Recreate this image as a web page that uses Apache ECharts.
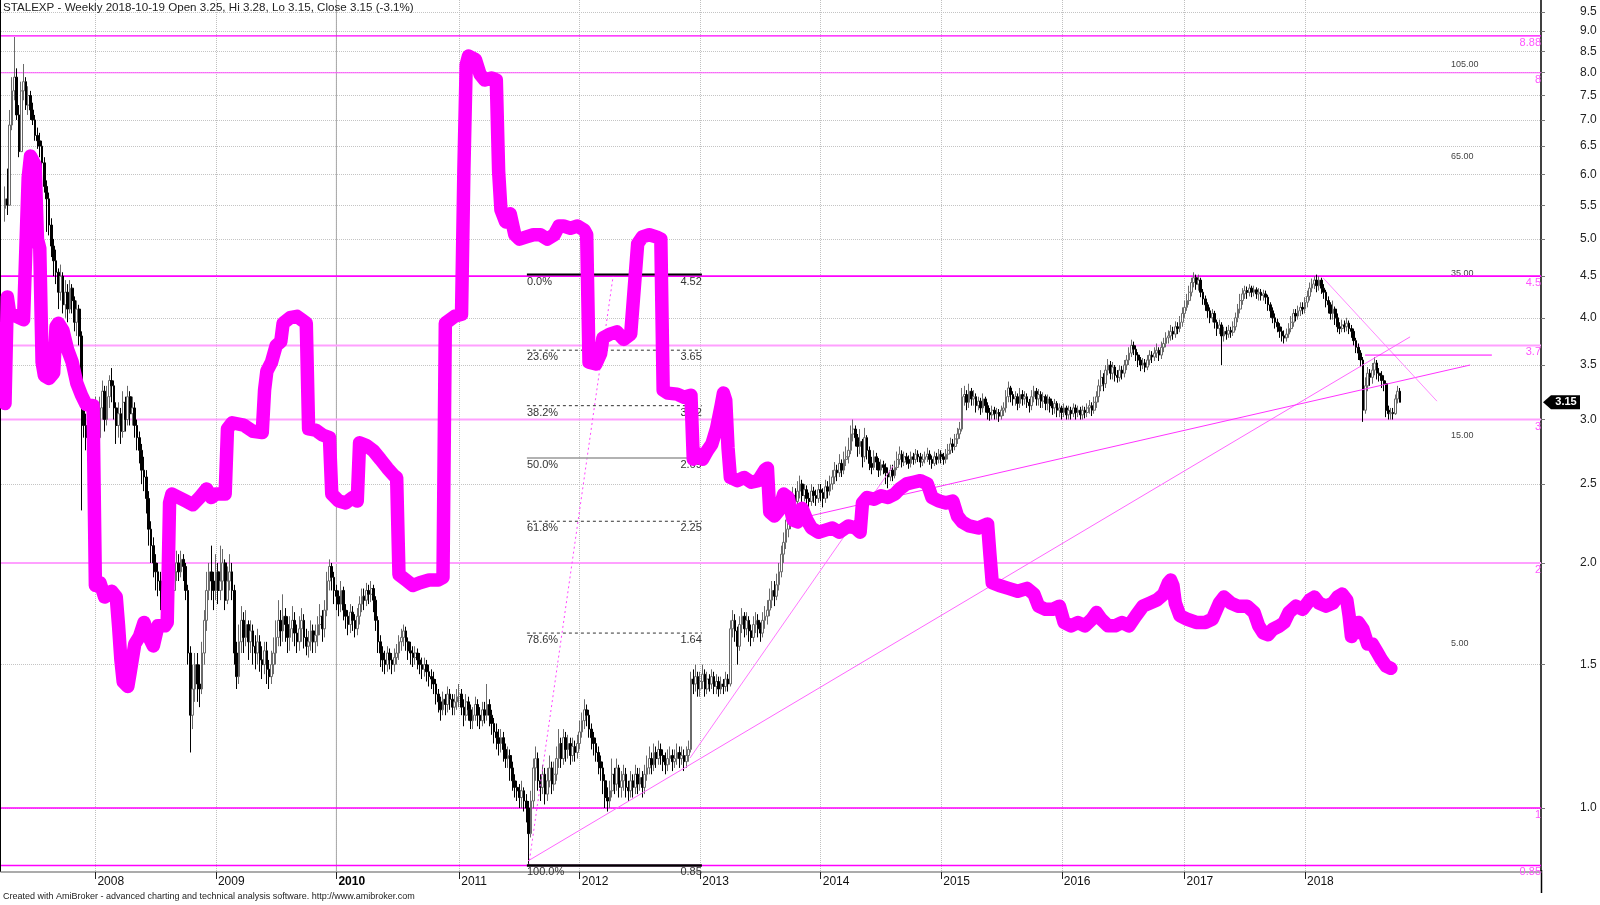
<!DOCTYPE html>
<html><head><meta charset="utf-8">
<script src="https://cdn.jsdelivr.net/npm/echarts@6/dist/echarts.min.js"></script>
<style>html,body{margin:0;padding:0;background:#fff}#c{width:1600px;height:905px}</style>
</head><body><div id="c"></div>
<script>
// Weekly bars from 2007-04-06 (week 0) to 2018-10-19 (week 602): [open, close, low, high]
const ohlc2007 = [[5.45,5.6,5.25,5.8],[5.6,5.5,5.35,6.1],[5.5,6.9,5.5,7.2],[6.9,7.6,6.8,7.9],[7.6,7.9,7.4,8.85],[7.9,7.1,7.0,8.1],[7.1,6.4,6.3,7.3],[6.4,7.6,6.4,7.8],[7.6,7.8,7.4,8.2],[7.8,7.3,7.2,7.9],[7.3,7.5,7.1,7.7],[7.5,7.2,7.0,7.6],[7.2,7.0,6.9,7.35],[7.0,6.7,6.6,7.1],[6.7,6.6,6.45,6.85],[6.6,6.5,6.3,6.75],[6.5,6.2,6.05,6.6],[6.2,5.8,5.7,6.3],[5.8,5.6,5.1,5.9],[5.6,5.2,5.05,5.7],[5.2,4.9,4.75,5.3],[4.9,4.7,4.5,5.0],[4.7,4.55,4.4,4.85],[4.55,4.3,4.1,4.6],[4.3,4.5,4.2,4.65],[4.5,4.15,4.05,4.55],[4.15,4.3,4.0,4.45],[4.3,4.1,3.95,4.4],[4.1,4.35,4.05,4.45],[4.35,4.2,4.05,4.4],[4.2,3.95,3.85,4.25],[3.95,4.1,3.8,4.2],[4.1,3.8,3.7,4.15],[3.8,3.2,2.32,3.85],[3.2,2.95,2.85,3.3],[2.95,2.85,2.75,3.05],[2.85,2.9,2.78,3.0],[2.9,2.78,2.7,2.95],[2.78,3.0,2.75,3.1]];
const ohlc2008 = [[3.0,3.05,2.8,3.2],[3.05,2.85,2.3,3.1],[2.85,3.1,2.45,3.2],[3.1,3.25,3.0,3.35],[3.25,3.0,2.9,3.3],[3.0,3.2,2.95,3.3],[3.2,3.35,3.1,3.4],[3.35,3.3,3.15,3.47],[3.3,3.1,3.0,3.35],[3.1,2.95,2.8,3.15],[2.95,3.05,2.85,3.15],[3.05,2.9,2.8,3.1],[2.9,3.15,2.85,3.25],[3.15,3.0,2.9,3.2],[3.0,3.2,2.95,3.3],[3.2,3.05,2.95,3.25],[3.05,3.1,2.95,3.2],[3.1,2.95,2.85,3.15],[2.95,2.85,2.75,3.0],[2.85,2.75,2.65,2.9],[2.75,2.6,2.5,2.8],[2.6,2.55,2.45,2.7],[2.55,2.4,2.3,2.6],[2.4,2.2,2.1,2.45],[2.2,2.1,2.0,2.25],[2.1,2.0,1.92,2.15],[2.0,1.95,1.85,2.05],[1.95,1.9,1.82,2.0],[1.9,1.85,1.75,1.95],[1.85,1.8,1.72,1.9],[1.8,1.75,1.7,1.85],[1.75,1.8,1.7,1.88],[1.8,1.9,1.75,1.95],[1.9,1.85,1.78,1.95],[1.85,1.95,1.8,2.02],[1.95,2.0,1.9,2.07],[2.0,1.95,1.9,2.05],[1.95,2.02,1.92,2.07],[2.02,1.98,1.9,2.05],[1.98,1.85,1.8,2.0],[1.85,1.55,1.5,1.88],[1.55,1.3,1.17,1.58],[1.3,1.4,1.25,1.5],[1.4,1.5,1.35,1.55],[1.5,1.42,1.35,1.55],[1.42,1.4,1.33,1.5],[1.4,1.55,1.38,1.6],[1.55,1.7,1.5,1.75],[1.7,1.85,1.65,1.95],[1.85,1.95,1.8,2.0],[1.95,1.9,1.8,2.1],[1.9,1.85,1.75,1.95]];
const ohlc2009 = [[1.85,1.95,1.8,2.05],[1.95,1.85,1.78,2.0],[1.85,1.9,1.8,2.1],[1.9,2.0,1.85,2.08],[2.0,1.8,1.75,2.02],[1.8,1.9,1.78,1.98],[1.9,1.95,1.85,2.05],[1.95,1.85,1.8,2.0],[1.85,1.55,1.5,1.88],[1.55,1.45,1.4,1.6],[1.45,1.6,1.42,1.68],[1.6,1.7,1.55,1.77],[1.7,1.62,1.55,1.74],[1.62,1.68,1.58,1.75],[1.68,1.6,1.52,1.7],[1.6,1.65,1.55,1.7],[1.65,1.58,1.5,1.68],[1.58,1.55,1.48,1.63],[1.55,1.6,1.5,1.66],[1.6,1.52,1.47,1.63],[1.52,1.5,1.44,1.58],[1.5,1.56,1.46,1.6],[1.56,1.48,1.42,1.6],[1.48,1.45,1.4,1.52],[1.45,1.5,1.42,1.56],[1.5,1.55,1.46,1.62],[1.55,1.62,1.5,1.7],[1.62,1.7,1.58,1.8],[1.7,1.65,1.58,1.75],[1.65,1.72,1.6,1.83],[1.72,1.68,1.6,1.76],[1.68,1.62,1.55,1.72],[1.62,1.66,1.56,1.72],[1.66,1.7,1.6,1.77],[1.7,1.64,1.58,1.74],[1.64,1.6,1.55,1.68],[1.6,1.66,1.56,1.72],[1.66,1.7,1.6,1.76],[1.7,1.62,1.57,1.73],[1.62,1.58,1.54,1.66],[1.58,1.6,1.53,1.65],[1.6,1.65,1.56,1.7],[1.65,1.6,1.55,1.68],[1.6,1.63,1.55,1.68],[1.63,1.68,1.58,1.72],[1.68,1.72,1.63,1.78],[1.72,1.66,1.6,1.75],[1.66,1.75,1.62,1.8],[1.75,1.9,1.72,1.95],[1.9,1.98,1.85,2.02],[1.98,1.92,1.85,2.0],[1.92,1.85,1.78,1.95]];
const ohlc2010 = [[1.85,1.82,1.75,1.88],[1.82,1.78,1.72,1.85],[1.78,1.85,1.74,1.9],[1.85,1.75,1.7,1.87],[1.75,1.72,1.66,1.78],[1.72,1.68,1.63,1.75],[1.68,1.74,1.64,1.78],[1.74,1.7,1.65,1.77],[1.7,1.66,1.62,1.73],[1.66,1.72,1.63,1.76],[1.72,1.78,1.68,1.82],[1.78,1.82,1.74,1.86],[1.82,1.8,1.75,1.86],[1.8,1.85,1.77,1.89],[1.85,1.83,1.78,1.88],[1.83,1.86,1.79,1.9],[1.86,1.8,1.74,1.88],[1.8,1.7,1.65,1.82],[1.7,1.6,1.55,1.72],[1.6,1.55,1.49,1.63],[1.55,1.52,1.47,1.58],[1.52,1.5,1.46,1.56],[1.5,1.55,1.47,1.58],[1.55,1.52,1.48,1.57],[1.52,1.5,1.46,1.55],[1.5,1.53,1.47,1.57],[1.53,1.55,1.5,1.59],[1.55,1.6,1.52,1.63],[1.6,1.62,1.56,1.66],[1.62,1.65,1.58,1.68],[1.65,1.6,1.56,1.67],[1.6,1.56,1.52,1.62],[1.56,1.55,1.5,1.6],[1.55,1.53,1.49,1.58],[1.53,1.55,1.5,1.58],[1.55,1.52,1.48,1.57],[1.52,1.5,1.46,1.55],[1.5,1.48,1.44,1.53],[1.48,1.5,1.45,1.53],[1.5,1.47,1.43,1.52],[1.47,1.45,1.41,1.5],[1.45,1.44,1.4,1.48],[1.44,1.42,1.38,1.47],[1.42,1.38,1.34,1.44],[1.38,1.35,1.31,1.4],[1.35,1.32,1.28,1.37],[1.32,1.36,1.3,1.39],[1.36,1.34,1.3,1.38],[1.34,1.38,1.31,1.41],[1.38,1.36,1.32,1.4],[1.36,1.33,1.3,1.38],[1.33,1.35,1.3,1.38],[1.35,1.37,1.32,1.4]];
const ohlc2011 = [[1.37,1.38,1.33,1.42],[1.38,1.33,1.3,1.4],[1.33,1.3,1.26,1.36],[1.3,1.35,1.28,1.38],[1.35,1.32,1.28,1.37],[1.32,1.28,1.25,1.34],[1.28,1.3,1.25,1.33],[1.3,1.34,1.28,1.37],[1.34,1.3,1.26,1.36],[1.3,1.28,1.25,1.33],[1.28,1.32,1.26,1.35],[1.32,1.3,1.27,1.35],[1.3,1.34,1.28,1.42],[1.34,1.3,1.26,1.36],[1.3,1.27,1.23,1.32],[1.27,1.24,1.2,1.29],[1.24,1.22,1.18,1.27],[1.22,1.2,1.16,1.25],[1.2,1.22,1.17,1.25],[1.22,1.18,1.14,1.24],[1.18,1.15,1.12,1.2],[1.15,1.16,1.12,1.19],[1.16,1.12,1.08,1.18],[1.12,1.08,1.05,1.14],[1.08,1.06,1.03,1.1],[1.06,1.05,1.02,1.08],[1.05,1.03,1.0,1.07],[1.03,1.05,1.0,1.08],[1.05,1.02,0.99,1.06],[1.02,1.0,0.96,1.04],[1.0,0.93,0.85,1.02],[0.93,1.02,0.92,1.05],[1.02,1.12,1.0,1.15],[1.12,1.15,1.08,1.19],[1.15,1.08,1.05,1.17],[1.08,1.06,1.02,1.1],[1.06,1.1,1.04,1.13],[1.1,1.04,1.01,1.12],[1.04,1.08,1.02,1.12],[1.08,1.12,1.06,1.16],[1.12,1.07,1.04,1.14],[1.07,1.1,1.05,1.14],[1.1,1.15,1.08,1.19],[1.15,1.2,1.12,1.25],[1.2,1.15,1.12,1.22],[1.15,1.22,1.13,1.25],[1.22,1.18,1.14,1.24],[1.18,1.2,1.15,1.23],[1.2,1.16,1.13,1.22],[1.16,1.19,1.14,1.22],[1.19,1.17,1.14,1.21],[1.17,1.2,1.15,1.23]];
const ohlc2012 = [[1.2,1.24,1.18,1.28],[1.24,1.28,1.22,1.31],[1.28,1.32,1.25,1.36],[1.32,1.3,1.26,1.34],[1.3,1.25,1.22,1.32],[1.25,1.22,1.18,1.27],[1.22,1.2,1.16,1.24],[1.2,1.17,1.14,1.22],[1.17,1.14,1.1,1.19],[1.14,1.12,1.08,1.16],[1.12,1.08,1.04,1.14],[1.08,1.03,1.0,1.1],[1.03,1.02,0.99,1.06],[1.02,1.05,1.0,1.08],[1.05,1.1,1.03,1.15],[1.1,1.07,1.04,1.12],[1.07,1.12,1.05,1.15],[1.12,1.06,1.03,1.13],[1.06,1.08,1.03,1.11],[1.08,1.1,1.05,1.13],[1.1,1.06,1.03,1.12],[1.06,1.05,1.02,1.08],[1.05,1.08,1.03,1.11],[1.08,1.06,1.03,1.1],[1.06,1.1,1.04,1.13],[1.1,1.07,1.04,1.12],[1.07,1.09,1.05,1.12],[1.09,1.06,1.03,1.11],[1.06,1.1,1.04,1.13],[1.1,1.12,1.08,1.16],[1.12,1.15,1.1,1.19],[1.15,1.13,1.1,1.17],[1.13,1.17,1.11,1.2],[1.17,1.15,1.12,1.19],[1.15,1.18,1.13,1.21],[1.18,1.16,1.13,1.2],[1.16,1.14,1.11,1.18],[1.14,1.13,1.1,1.17],[1.13,1.15,1.11,1.18],[1.15,1.16,1.13,1.19],[1.16,1.14,1.11,1.18],[1.14,1.15,1.12,1.18],[1.15,1.17,1.13,1.2],[1.17,1.15,1.12,1.19],[1.15,1.16,1.13,1.19],[1.16,1.14,1.11,1.18],[1.14,1.16,1.12,1.19],[1.16,1.18,1.14,1.21],[1.18,1.44,1.17,1.47],[1.44,1.42,1.38,1.48],[1.42,1.45,1.39,1.5],[1.45,1.4,1.37,1.47]];
const ohlc2013 = [[1.4,1.43,1.37,1.47],[1.43,1.46,1.4,1.5],[1.46,1.4,1.37,1.48],[1.4,1.44,1.38,1.47],[1.44,1.42,1.39,1.46],[1.42,1.45,1.4,1.48],[1.45,1.41,1.38,1.47],[1.41,1.43,1.38,1.46],[1.43,1.4,1.37,1.45],[1.4,1.42,1.38,1.45],[1.42,1.41,1.38,1.44],[1.41,1.44,1.39,1.47],[1.44,1.42,1.39,1.46],[1.42,1.66,1.41,1.7],[1.66,1.7,1.62,1.75],[1.7,1.65,1.6,1.73],[1.65,1.58,1.5,1.67],[1.58,1.68,1.56,1.72],[1.68,1.72,1.64,1.76],[1.72,1.66,1.62,1.74],[1.66,1.7,1.63,1.74],[1.7,1.65,1.6,1.72],[1.65,1.62,1.58,1.68],[1.62,1.68,1.6,1.72],[1.68,1.7,1.64,1.74],[1.7,1.66,1.62,1.73],[1.66,1.64,1.6,1.69],[1.64,1.7,1.62,1.74],[1.7,1.72,1.66,1.77],[1.72,1.75,1.68,1.8],[1.75,1.8,1.72,1.86],[1.8,1.85,1.76,1.9],[1.85,1.82,1.77,1.9],[1.82,1.88,1.8,1.94],[1.88,1.95,1.85,2.0],[1.95,2.05,1.92,2.1],[2.05,2.12,2.0,2.18],[2.12,2.2,2.08,2.26],[2.2,2.25,2.15,2.32],[2.25,2.35,2.2,2.42],[2.35,2.42,2.3,2.48],[2.42,2.38,2.32,2.47],[2.38,2.45,2.34,2.52],[2.45,2.5,2.4,2.56],[2.5,2.42,2.37,2.53],[2.42,2.46,2.38,2.5],[2.46,2.4,2.35,2.49],[2.4,2.38,2.32,2.44],[2.38,2.45,2.35,2.5],[2.45,2.42,2.37,2.48],[2.42,2.4,2.35,2.46],[2.4,2.46,2.37,2.5]];
const ohlc2014 = [[2.46,2.44,2.38,2.5],[2.44,2.4,2.34,2.47],[2.4,2.48,2.37,2.53],[2.48,2.45,2.4,2.52],[2.45,2.5,2.42,2.56],[2.5,2.55,2.46,2.6],[2.55,2.6,2.5,2.66],[2.6,2.58,2.52,2.64],[2.58,2.65,2.55,2.72],[2.65,2.6,2.55,2.68],[2.6,2.68,2.57,2.74],[2.68,2.7,2.63,2.78],[2.7,2.75,2.65,2.85],[2.75,2.88,2.72,2.95],[2.88,2.92,2.82,3.0],[2.92,2.85,2.78,2.95],[2.85,2.78,2.7,2.88],[2.78,2.82,2.72,2.92],[2.82,2.7,2.62,2.84],[2.7,2.85,2.66,2.93],[2.85,2.75,2.68,2.87],[2.75,2.65,2.6,2.78],[2.65,2.62,2.57,2.7],[2.62,2.7,2.6,2.75],[2.7,2.66,2.6,2.73],[2.66,2.6,2.55,2.69],[2.6,2.64,2.56,2.68],[2.64,2.62,2.57,2.67],[2.62,2.58,2.5,2.65],[2.58,2.55,2.47,2.62],[2.55,2.6,2.52,2.64],[2.6,2.56,2.52,2.64],[2.56,2.62,2.54,2.67],[2.62,2.68,2.6,2.74],[2.68,2.72,2.64,2.78],[2.72,2.66,2.62,2.75],[2.66,2.7,2.63,2.74],[2.7,2.68,2.64,2.73],[2.68,2.65,2.61,2.71],[2.65,2.7,2.62,2.74],[2.7,2.68,2.64,2.73],[2.68,2.72,2.65,2.76],[2.72,2.7,2.66,2.75],[2.7,2.66,2.62,2.73],[2.66,2.68,2.63,2.72],[2.68,2.7,2.65,2.74],[2.7,2.72,2.66,2.77],[2.72,2.68,2.64,2.75],[2.68,2.65,2.61,2.71],[2.65,2.7,2.63,2.74],[2.7,2.68,2.64,2.73],[2.68,2.72,2.65,2.76]];
const ohlc2015 = [[2.72,2.7,2.65,2.75],[2.7,2.68,2.64,2.73],[2.68,2.72,2.65,2.76],[2.72,2.75,2.68,2.8],[2.75,2.8,2.72,2.85],[2.8,2.78,2.73,2.84],[2.78,2.84,2.75,2.88],[2.84,2.88,2.8,2.93],[2.88,2.92,2.84,2.98],[2.92,3.2,2.9,3.28],[3.2,3.22,3.12,3.3],[3.22,3.15,3.08,3.26],[3.15,3.25,3.1,3.32],[3.25,3.18,3.12,3.28],[3.18,3.2,3.12,3.26],[3.2,3.12,3.06,3.23],[3.12,3.16,3.08,3.2],[3.16,3.1,3.04,3.19],[3.1,3.18,3.06,3.23],[3.18,3.12,3.06,3.2],[3.12,3.06,3.0,3.15],[3.06,3.04,2.99,3.1],[3.04,3.08,3.0,3.12],[3.08,3.05,3.0,3.11],[3.05,3.06,3.0,3.1],[3.06,3.03,2.98,3.09],[3.03,3.08,3.0,3.12],[3.08,3.1,3.03,3.15],[3.1,3.2,3.06,3.26],[3.2,3.28,3.15,3.34],[3.28,3.22,3.15,3.3],[3.22,3.18,3.12,3.25],[3.18,3.2,3.12,3.25],[3.2,3.14,3.08,3.23],[3.14,3.22,3.1,3.28],[3.22,3.18,3.12,3.26],[3.18,3.2,3.13,3.25],[3.2,3.15,3.1,3.23],[3.15,3.12,3.06,3.18],[3.12,3.2,3.08,3.26],[3.2,3.25,3.15,3.3],[3.25,3.18,3.12,3.28],[3.18,3.22,3.12,3.27],[3.22,3.16,3.1,3.25],[3.16,3.2,3.1,3.24],[3.2,3.14,3.08,3.22],[3.14,3.18,3.08,3.22],[3.18,3.12,3.06,3.2],[3.12,3.1,3.04,3.16],[3.1,3.14,3.05,3.18],[3.14,3.08,3.02,3.16],[3.08,3.1,3.02,3.14]];
const ohlc2016 = [[3.1,3.06,3.0,3.12],[3.06,3.1,3.02,3.14],[3.1,3.04,3.0,3.12],[3.04,3.08,3.0,3.12],[3.08,3.05,3.0,3.11],[3.05,3.1,3.02,3.14],[3.1,3.06,3.0,3.13],[3.06,3.08,3.02,3.12],[3.08,3.04,3.0,3.11],[3.04,3.08,3.0,3.12],[3.08,3.06,3.01,3.11],[3.06,3.1,3.02,3.14],[3.1,3.12,3.05,3.17],[3.12,3.08,3.03,3.15],[3.08,3.15,3.05,3.2],[3.15,3.2,3.1,3.25],[3.2,3.3,3.15,3.36],[3.3,3.38,3.25,3.45],[3.38,3.32,3.25,3.42],[3.32,3.45,3.28,3.5],[3.45,3.5,3.4,3.56],[3.5,3.42,3.36,3.54],[3.42,3.48,3.36,3.53],[3.48,3.4,3.34,3.5],[3.4,3.38,3.33,3.45],[3.38,3.45,3.34,3.5],[3.45,3.42,3.36,3.49],[3.42,3.5,3.38,3.55],[3.5,3.55,3.45,3.6],[3.55,3.62,3.5,3.68],[3.62,3.7,3.58,3.76],[3.7,3.66,3.6,3.74],[3.66,3.6,3.54,3.7],[3.6,3.55,3.48,3.63],[3.55,3.5,3.44,3.58],[3.5,3.52,3.46,3.57],[3.52,3.48,3.43,3.56],[3.48,3.55,3.45,3.6],[3.55,3.6,3.5,3.65],[3.6,3.58,3.52,3.64],[3.58,3.62,3.54,3.68],[3.62,3.65,3.57,3.72],[3.65,3.6,3.54,3.68],[3.6,3.68,3.56,3.74],[3.68,3.72,3.63,3.78],[3.72,3.78,3.68,3.84],[3.78,3.8,3.72,3.86],[3.8,3.85,3.75,3.92],[3.85,3.82,3.76,3.9],[3.82,3.9,3.78,3.96],[3.9,3.88,3.82,3.95],[3.88,3.95,3.84,4.02],[3.95,4.05,3.9,4.12]];
const ohlc2017 = [[4.05,4.12,4.0,4.2],[4.12,4.2,4.08,4.28],[4.2,4.3,4.15,4.38],[4.3,4.42,4.25,4.48],[4.42,4.48,4.36,4.55],[4.48,4.4,4.33,4.52],[4.4,4.45,4.32,4.52],[4.45,4.3,4.24,4.48],[4.3,4.22,4.15,4.34],[4.22,4.15,4.08,4.26],[4.15,4.08,4.0,4.18],[4.08,4.0,3.94,4.12],[4.0,4.05,3.95,4.1],[4.05,3.95,3.88,4.08],[3.95,3.88,3.8,3.98],[3.88,3.92,3.82,3.98],[3.92,3.8,3.5,3.95],[3.8,3.85,3.74,3.9],[3.85,3.82,3.76,3.9],[3.82,3.86,3.78,3.92],[3.86,3.84,3.78,3.9],[3.84,3.9,3.8,3.96],[3.9,4.0,3.86,4.06],[4.0,4.1,3.95,4.16],[4.1,4.2,4.05,4.28],[4.2,4.28,4.15,4.35],[4.28,4.32,4.22,4.38],[4.32,4.3,4.22,4.37],[4.3,4.35,4.25,4.4],[4.35,4.3,4.24,4.38],[4.3,4.33,4.25,4.38],[4.33,4.28,4.22,4.36],[4.28,4.3,4.2,4.35],[4.3,4.26,4.2,4.34],[4.26,4.28,4.2,4.33],[4.28,4.24,4.16,4.32],[4.24,4.15,4.08,4.27],[4.15,4.08,4.0,4.18],[4.08,4.0,3.94,4.12],[4.0,3.95,3.88,4.05],[3.95,3.9,3.84,3.99],[3.9,3.85,3.78,3.94],[3.85,3.8,3.74,3.9],[3.8,3.78,3.72,3.86],[3.78,3.82,3.74,3.88],[3.82,3.88,3.78,3.94],[3.88,3.95,3.84,4.02],[3.95,4.05,3.9,4.1],[4.05,4.02,3.96,4.1],[4.02,4.08,3.98,4.14],[4.08,4.12,4.02,4.18],[4.12,4.1,4.04,4.18]];
const ohlc2018 = [[4.1,4.18,4.05,4.24],[4.18,4.25,4.12,4.32],[4.25,4.35,4.2,4.42],[4.35,4.4,4.3,4.47],[4.4,4.45,4.34,4.5],[4.45,4.38,4.3,4.52],[4.38,4.45,4.32,4.5],[4.45,4.35,4.28,4.48],[4.35,4.3,4.22,4.4],[4.3,4.2,4.12,4.33],[4.2,4.15,4.05,4.25],[4.15,4.05,3.98,4.18],[4.05,4.1,3.98,4.2],[4.1,4.0,3.92,4.13],[4.0,3.9,3.84,4.05],[3.9,3.88,3.82,3.95],[3.88,3.92,3.84,3.98],[3.92,3.9,3.84,3.97],[3.9,3.94,3.85,4.0],[3.94,3.88,3.82,3.97],[3.88,3.85,3.78,3.92],[3.85,3.75,3.7,3.88],[3.75,3.68,3.62,3.78],[3.68,3.62,3.55,3.72],[3.62,3.55,3.48,3.65],[3.55,3.08,2.98,3.58],[3.08,3.3,3.05,3.38],[3.3,3.42,3.25,3.48],[3.42,3.38,3.3,3.46],[3.38,3.45,3.32,3.52],[3.45,3.52,3.4,3.58],[3.52,3.42,3.36,3.55],[3.42,3.4,3.34,3.47],[3.4,3.35,3.28,3.44],[3.35,3.32,3.25,3.4],[3.32,3.08,3.02,3.35],[3.08,3.05,3.0,3.12],[3.05,3.06,3.0,3.1],[3.06,3.05,3.0,3.1],[3.05,3.18,3.04,3.22],[3.18,3.25,3.14,3.3],[3.25,3.15,3.15,3.28]];

// Ratio indicator (thick magenta line): [week, value]
const pePoints = [[0,17.7],[1,31],[2,28.5],[5,28],[8,27.5],[9,40],[10,58],[11,65],[13,62],[14,42],[15,40],[16,22],[17,20.5],[19,20.2],[21,20.8],[22,26.5],[23,27],[25,26],[27,23.5],[29,22],[31,19.7],[33,18.5],[35,17.6],[38,17.5],[39,6.8],[41,6.9],[43,6.4],[46,6.6],[48,6.4],[49,5.5],[50,4.6],[51,4.1],[53,4.0],[54,4.3],[56,5.0],[58,5.2],[60,5.6],[62,5.2],[64,4.95],[66,5.5],[69,5.5],[70,5.6],[71,10.5],[72,11],[75,10.8],[78,10.6],[81,10.4],[84,10.8],[87,11.3],[89,10.8],[91,11],[95,11],[96,15.5],[98,16],[103,15.8],[107,15.3],[111,15.2],[112,19],[113,21],[115,22],[117,24],[119,24.5],[120,27],[123,27.8],[126,28],[128,27.5],[130,27],[131,15.5],[134,15.4],[137,15],[140,14.8],[141,11],[144,10.6],[147,10.5],[150,10.8],[152,10.6],[153,14.4],[156,14.2],[159,13.8],[162,13.2],[165,12.6],[168,12.1],[169,12],[170,7.2],[173,7],[176,6.8],[179,6.9],[183,7],[187,7],[189,7.1],[190,27],[194,28],[197,28.3],[198,60],[199,105],[200,110],[203,108],[205,100],[207,97],[210,98],[212,97],[213,60],[214,49],[216,46],[218,48],[220,43],[222,42],[225,42.5],[228,43],[231,43],[234,42],[237,43],[239,45],[241,45],[244,44.5],[247,45],[250,44],[251,43],[252,22],[255,21.8],[257,23],[258,25],[261,25.5],[264,25.8],[267,24.8],[270,25.5],[272,35],[273,41],[275,42.5],[278,43],[281,42.5],[283,42],[284,19],[286,18.7],[290,18.6],[293,18.3],[296,18.5],[297,13.2],[299,13.6],[301,13.2],[303,13.8],[305,14.3],[307,15.5],[309,17.5],[310,18.7],[311,18],[312,14],[313,12],[316,11.8],[319,12],[322,11.7],[325,11.8],[328,12.5],[329,12.6],[330,10],[332,9.8],[334,10.1],[336,11],[338,10.8],[340,9.6],[342,9.5],[344,10.2],[346,9.6],[348,9.2],[351,9.0],[354,9.1],[357,9.2],[360,9.0],[364,9.3],[367,9.2],[369,9.0],[370,10.5],[372,10.8],[375,10.7],[378,10.9],[381,10.8],[384,11],[386,11.3],[389,11.6],[392,11.7],[395,11.8],[398,11.6],[400,10.8],[403,10.6],[406,10.5],[409,10.6],[411,9.8],[413,9.5],[416,9.3],[420,9.2],[424,9.4],[425,8.0],[426,6.9],[429,6.8],[433,6.7],[437,6.6],[441,6.7],[444,6.5],[446,6.1],[449,6.0],[452,6.0],[455,6.1],[457,5.6],[460,5.5],[463,5.6],[466,5.5],[469,5.7],[471,5.9],[473,5.7],[476,5.5],[479,5.5],[482,5.6],[485,5.5],[488,5.8],[491,6.1],[494,6.2],[497,6.3],[500,6.5],[502,6.9],[503,7.0],[504,6.8],[505,6.2],[507,5.8],[510,5.7],[514,5.6],[518,5.6],[521,5.7],[524,6.2],[526,6.4],[529,6.2],[532,6.1],[536,6.1],[539,5.9],[541,5.5],[543,5.3],[545,5.25],[547,5.4],[550,5.5],[552,5.6],[554,5.9],[557,6.1],[560,6.0],[563,6.3],[565,6.4],[567,6.2],[570,6.1],[573,6.2],[575,6.4],[577,6.5],[579,6.3],[580,5.8],[581,5.2],[582,5.5],[583,5.3],[584,5.6],[586,5.4],[588,5.0],[590,5.0],[592,4.8],[594,4.6],[596,4.45],[598,4.4]];

const yearTickWeeks = [39, 91, 143, 196, 248, 300, 352, 404, 456, 509, 561];
const yearLabels = ['2008','2009','2010','2011','2012','2013','2014','2015','2016','2017','2018'];
const priceTicks = [1.0,1.5,2.0,2.5,3.0,3.5,4.0,4.5,5.0,5.5,6.0,6.5,7.0,7.5,8.0,8.5,9.0,9.5];
const peTicks = [5, 15, 35, 65, 105];
const hLevels = [8.88, 8, 4.5, 3.7, 3, 2, 1, 0.85];
const hLevelLabels = ['8.88','8','4.5','3.7','3','2','1','0.85'];
const fibPct = ['0.0%','23.6%','38.2%','50.0%','61.8%','78.6%','100.0%'];
const fibVal = [4.52, 3.65, 3.12, 2.69, 2.25, 1.64, 0.85];
const fibSpan = [225.2, 300.7];
const fibSwing = [[226, 0.85], [262.5, 4.52]];
const trendLines = [
  [[225.7, 0.861], [606.3, 3.79]],
  [[295.6, 1.152], [383.2, 2.63]],
  [[347.4, 2.284], [632.2, 3.50]],
  [[568.7, 4.48], [617.9, 3.16]],
  [[586.9, 3.60], [641.6, 3.60]]
];
const lastClose = 3.15;
const titleText = 'STALEXP - Weekly 2018-10-19 Open 3.25, Hi 3.28, Lo 3.15, Close 3.15 (-3.1%)';
const footerText = 'Created with AmiBroker - advanced charting and technical analysis software. http://www.amibroker.com';

const X_MIN = -1.73, X_MAX = 662.8;
const Y_MIN = 0.8344, Y_MAX = 9.827;
const PE_MIN = 1.508, PE_MAX = 147.7;
const FONT = "'Liberation Sans', Arial, sans-serif";

const ohlc = [].concat(ohlc2007, ohlc2008, ohlc2009, ohlc2010, ohlc2011, ohlc2012, ohlc2013, ohlc2014, ohlc2015, ohlc2016, ohlc2017, ohlc2018);
const candleData = ohlc.map((q, i) => [i, q[0], q[1], q[2], q[3]]);

const chart = echarts.init(document.getElementById('c'), null, {renderer: 'canvas'});

const series = [];
// 2010 solid vertical grid line
series.push({type: 'line', silent: true, z: 1, symbol: 'none', clip: false,
  data: [[143, Y_MIN], [143, Y_MAX]], lineStyle: {color: '#a8a8a8', width: 1}});

// horizontal level lines
const levelStyle = {
  8.88: ['#ff00ff', 1.2], 8: ['#ff55ff', 1.2], 4.5: ['#ff00ff', 1.6], 3.7: ['#ffa0ff', 2],
  3: ['#ffa0ff', 2], 2: ['#ffa0ff', 2], 1: ['#ff00ff', 1.5], 0.85: ['#ff00ff', 1.5]
};
hLevels.forEach((lv, k) => {
  const st = levelStyle[lv];
  series.push({type: 'line', silent: true, z: 2, clip: false, symbol: 'circle', symbolSize: 1,
    itemStyle: {color: 'rgba(0,0,0,0)', borderWidth: 0},
    lineStyle: {color: st[0], width: st[1]},
    data: [[X_MIN, lv], {value: [X_MAX, lv], label: {show: true, position: 'bottom', align: 'right', distance: 1,
      formatter: hLevelLabels[k], color: '#ff55ff', fontSize: 11, fontFamily: FONT}}]});
});

// candles
series.push({type: 'candlestick', z: 3, silent: true, large: false, barWidth: 2.2,
  itemStyle: {color: '#ffffff', color0: '#000000', borderColor: '#6a6a6a', borderColor0: '#000000', borderWidth: 1},
  data: candleData});

// trend lines
const trendColors = ['#ff66ff', '#ff77ff', '#ff33ff', '#ff88ff', '#ff00ff'];
trendLines.forEach((tl, k) => {
  series.push({type: 'line', silent: true, z: 4, symbol: 'none', clip: false, data: tl,
    lineStyle: {color: trendColors[k], width: 1}});
});

// fib swing (dotted)
series.push({type: 'line', silent: true, z: 4, symbol: 'none', data: fibSwing,
  lineStyle: {color: '#ff44ff', width: 1, type: [2, 3]}});

// fib levels
const fibStyles = [
  {color: '#000', width: 2, type: 'solid'},
  {color: '#333', width: 1, type: [3, 3]},
  {color: '#333', width: 1, type: [3, 3]},
  {color: '#999', width: 1.5, type: 'solid'},
  {color: '#333', width: 1, type: [3, 3]},
  {color: '#333', width: 1, type: [3, 3]},
  {color: '#000', width: 2.5, type: 'solid'}
];
fibVal.forEach((fv, k) => {
  const lab = {show: true, position: 'bottom', distance: 1, color: '#333', fontSize: 11, fontFamily: FONT};
  series.push({type: 'line', silent: true, z: 5, clip: false, symbol: 'circle', symbolSize: 1,
    itemStyle: {color: 'rgba(0,0,0,0)', borderWidth: 0},
    lineStyle: fibStyles[k],
    data: [
      {value: [fibSpan[0], fv], label: Object.assign({}, lab, {align: 'left', formatter: fibPct[k]})},
      {value: [fibSpan[1], fv], label: Object.assign({}, lab, {align: 'right', formatter: fv.toFixed(2)})}
    ]});
});

// thick ratio line
series.push({type: 'line', silent: true, z: 10, yAxisIndex: 1, symbol: 'none', data: pePoints,
  lineStyle: {color: '#ff00ff', width: 13.5, cap: 'round', join: 'round'}});

const option = {
  animation: false,
  backgroundColor: '#ffffff',
  textStyle: {fontFamily: FONT},
  title: [
    {text: titleText, left: 3, top: 2, padding: 0, textStyle: {fontSize: 11.6, fontWeight: 'normal', color: '#222', fontFamily: FONT}},
    {text: footerText, left: 3, top: 892, padding: 0, textStyle: {fontSize: 9, fontWeight: 'normal', color: '#222', fontFamily: FONT}}
  ],
  grid: {left: 1, right: 59, top: 0, bottom: 33, containLabel: false},
  xAxis: {type: 'value', min: X_MIN, max: X_MAX,
    axisLine: {show: true, lineStyle: {color: '#909090', width: 1.5}},
    axisTick: {show: true, customValues: yearTickWeeks, length: 7, lineStyle: {color: '#222'}},
    axisLabel: {show: true, customValues: yearTickWeeks, align: 'left', margin: 4, padding: [0, 0, 0, 2],
      formatter: function (v) { const i = yearTickWeeks.indexOf(v); const s = i >= 0 ? yearLabels[i] : ''; return s === '2010' ? '{b|' + s + '}' : '{n|' + s + '}'; },
      rich: {b: {fontWeight: 'bold', fontSize: 12, color: '#000', fontFamily: FONT}, n: {fontSize: 12, color: '#111', fontFamily: FONT}}},
    splitLine: {show: true, lineStyle: {color: '#c0c0c0', type: 'dotted', width: 1}}
  },
  yAxis: [
    {type: 'log', logBase: 10, min: Y_MIN, max: Y_MAX, position: 'right',
      axisLine: {show: true, onZero: false, lineStyle: {color: '#000', width: 1.5}},
      axisTick: {show: true, customValues: priceTicks, length: 4, lineStyle: {color: '#777'}},
      axisLabel: {show: true, customValues: priceTicks, align: 'left', margin: 39, color: '#222', fontSize: 12, fontFamily: FONT,
        formatter: v => Number(v).toFixed(1)},
      splitLine: {show: true, lineStyle: {color: '#c4c4c4', type: 'dotted', width: 1}}},
    {type: 'log', logBase: 10, min: PE_MIN, max: PE_MAX, position: 'right',
      axisLine: {show: false}, axisTick: {show: false, customValues: peTicks}, splitLine: {show: false},
      axisLabel: {show: true, inside: true, customValues: peTicks, align: 'left', margin: 90, color: '#444', fontSize: 9, fontFamily: FONT,
        formatter: v => Number(v).toFixed(2)}}
  ],
  series: series
};
chart.setOption(option);

const yy = chart.convertToPixel({yAxisIndex: 0}, lastClose);
chart.setOption({graphic: [
  {type: 'line', silent: true, shape: {x1: 0.5, y1: 0, x2: 0.5, y2: 872}, style: {stroke: '#000', lineWidth: 1}},
  {type: 'line', silent: true, shape: {x1: 1541.5, y1: 870, x2: 1541.5, y2: 893}, style: {stroke: '#000', lineWidth: 1.5}},
  {type: 'polygon', silent: true, shape: {points: [[1543, yy], [1551, yy - 7], [1580, yy - 7], [1580, yy + 7], [1551, yy + 7]]}, style: {fill: '#000'}},
  {type: 'text', silent: true, x: 1566, y: yy, style: {text: lastClose.toFixed(2), fill: '#fff', font: 'bold 11px ' + FONT, align: 'center', verticalAlign: 'middle', textAlign: 'center', textVerticalAlign: 'middle'}}
]});
</script>
</body></html>
